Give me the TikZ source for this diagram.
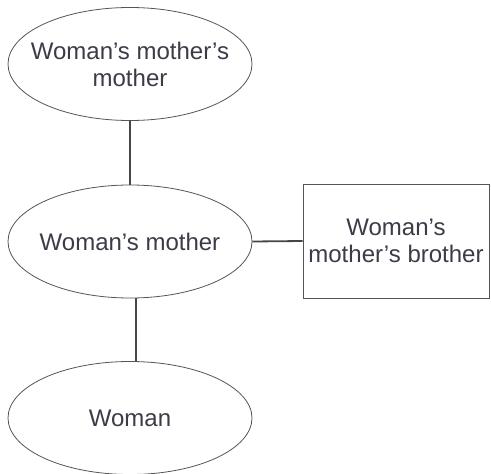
\documentclass[tikz,border=0pt]{standalone}
\usepackage{fontspec}
\setmainfont{Liberation Sans}
\usetikzlibrary{shapes.geometric}
\definecolor{txt}{RGB}{60,60,72}
\definecolor{edge}{RGB}{85,85,85}
\definecolor{conn}{RGB}{70,70,70}
\begin{document}
\begin{tikzpicture}[x=1pt,y=-1pt,
  person/.style={ellipse,draw=edge,line width=0.8pt,minimum width=244pt,minimum height=113pt,
    inner xsep=-16pt,inner ysep=0pt,
    text=txt,align=center,font=\fontsize{24}{27}\selectfont},
  relbox/.style={rectangle,draw=edge,line width=0.8pt,minimum width=186pt,minimum height=114pt,inner sep=0pt,
    text=txt,align=center,font=\fontsize{24}{27}\selectfont},
  link/.style={draw=conn,line width=1.8pt}]
\useasboundingbox (0,0) rectangle (491,474);
\fill[white] (0,0) rectangle (491,474);
\node[person] (gm) at (130,64) {Woman’s mother’s\\mother};
\node[person] (m) at (130,241.5) {Woman’s mother};
\node[person] (w) at (130,418) {Woman};
\node[relbox] (mb) at (396,241) {Woman’s\\mother’s brother};
\draw[link] (gm.south) -- (m.north);
\draw[link] ([xshift=6pt]m.south) -- ([xshift=6pt]w.north);
\draw[link] (m.east) -- (mb.west);
\end{tikzpicture}
\end{document}
